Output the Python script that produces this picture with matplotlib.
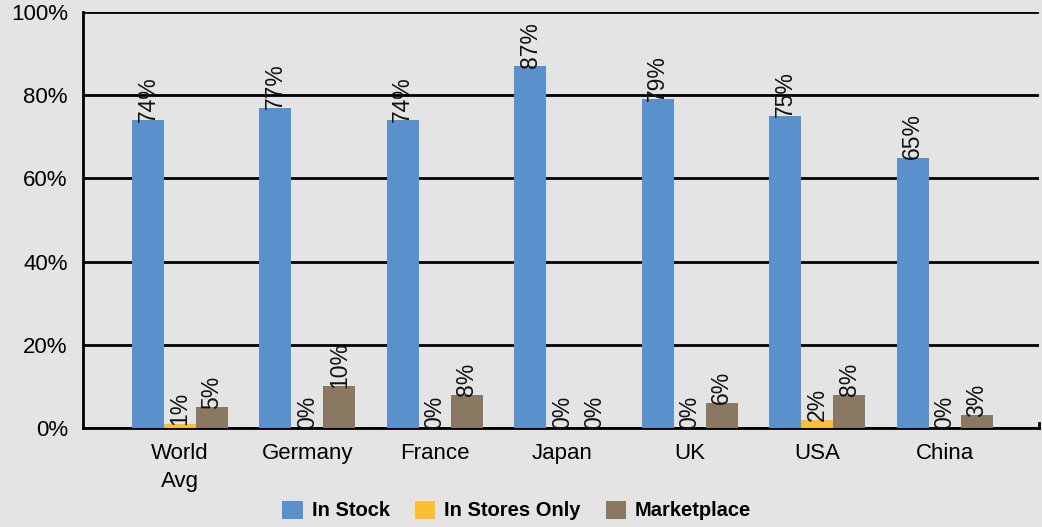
import numpy as np
import matplotlib.pyplot as plt
from matplotlib.ticker import FuncFormatter

countries = ['World\nAvg', 'Germany', 'France', 'Japan', 'UK', 'USA', 'China']
in_stock = [74, 77, 74, 87, 79, 75, 65]
in_stores_only = [1, 0, 0, 0, 0, 2, 0]
marketplace = [5, 10, 8, 0, 6, 8, 3]

series = [('In Stock', in_stock, '#5a90cb'),
          ('In Stores Only', in_stores_only, '#fbbf33'),
          ('Marketplace', marketplace, '#8b7862')]

bg = '#e4e4e4'
plt.rcParams['font.family'] = ['Liberation Sans', 'DejaVu Sans']

fig = plt.figure(figsize=(10.42, 5.27), dpi=100, facecolor=bg)
ax = fig.add_axes([0.0797, 0.188, 0.9175, 0.789], facecolor=bg)

x = np.arange(len(countries))
w = 0.251
for k, (name, vals, col) in enumerate(series):
    bars = ax.bar(x + (k - 1) * w, vals, w, color=col, label=name, zorder=3)
    # value labels sit on top of each bar, turned sideways
    for b, v in zip(bars, vals):
        ax.annotate('%d%%' % v, (b.get_x() + b.get_width() / 2, v),
                    xytext=(0, -1), textcoords='offset points',
                    rotation=90, ha='center', va='bottom',
                    fontsize=16.5, color='#111111', zorder=4)

ax.set_xlim(-0.76, 6.74)
ax.set_ylim(0, 100)
ax.set_yticks(np.arange(0, 101, 20))
ax.yaxis.set_major_formatter(FuncFormatter(lambda v, p: '%d%%' % v))
ax.grid(axis='y', color='black', linewidth=2, zorder=1)
ax.set_xticks(x)
ax.set_xticklabels(countries, fontsize=16, linespacing=1.45)
ax.tick_params(axis='y', labelsize=16, length=0, pad=11)
ax.tick_params(axis='x', length=0, pad=11)

for s in ['top', 'right']:
    ax.spines[s].set_visible(False)
ax.spines['left'].set_linewidth(2)
ax.spines['bottom'].set_linewidth(2)
ax.plot([1, 1], [0, 0.012], transform=ax.transAxes, color='black',
        linewidth=2, clip_on=False, zorder=5)

leg = fig.legend(loc='lower center', bbox_to_anchor=(0.496, -0.022), ncol=3,
                 frameon=False, handlelength=1.0, handleheight=1.0,
                 handletextpad=0.45, columnspacing=1.25,
                 prop={'family': ['Liberation Sans Narrow', 'Liberation Sans'],
                       'weight': 'bold', 'size': 14.5})

fig.savefig('out.png', dpi=100, facecolor=bg)
